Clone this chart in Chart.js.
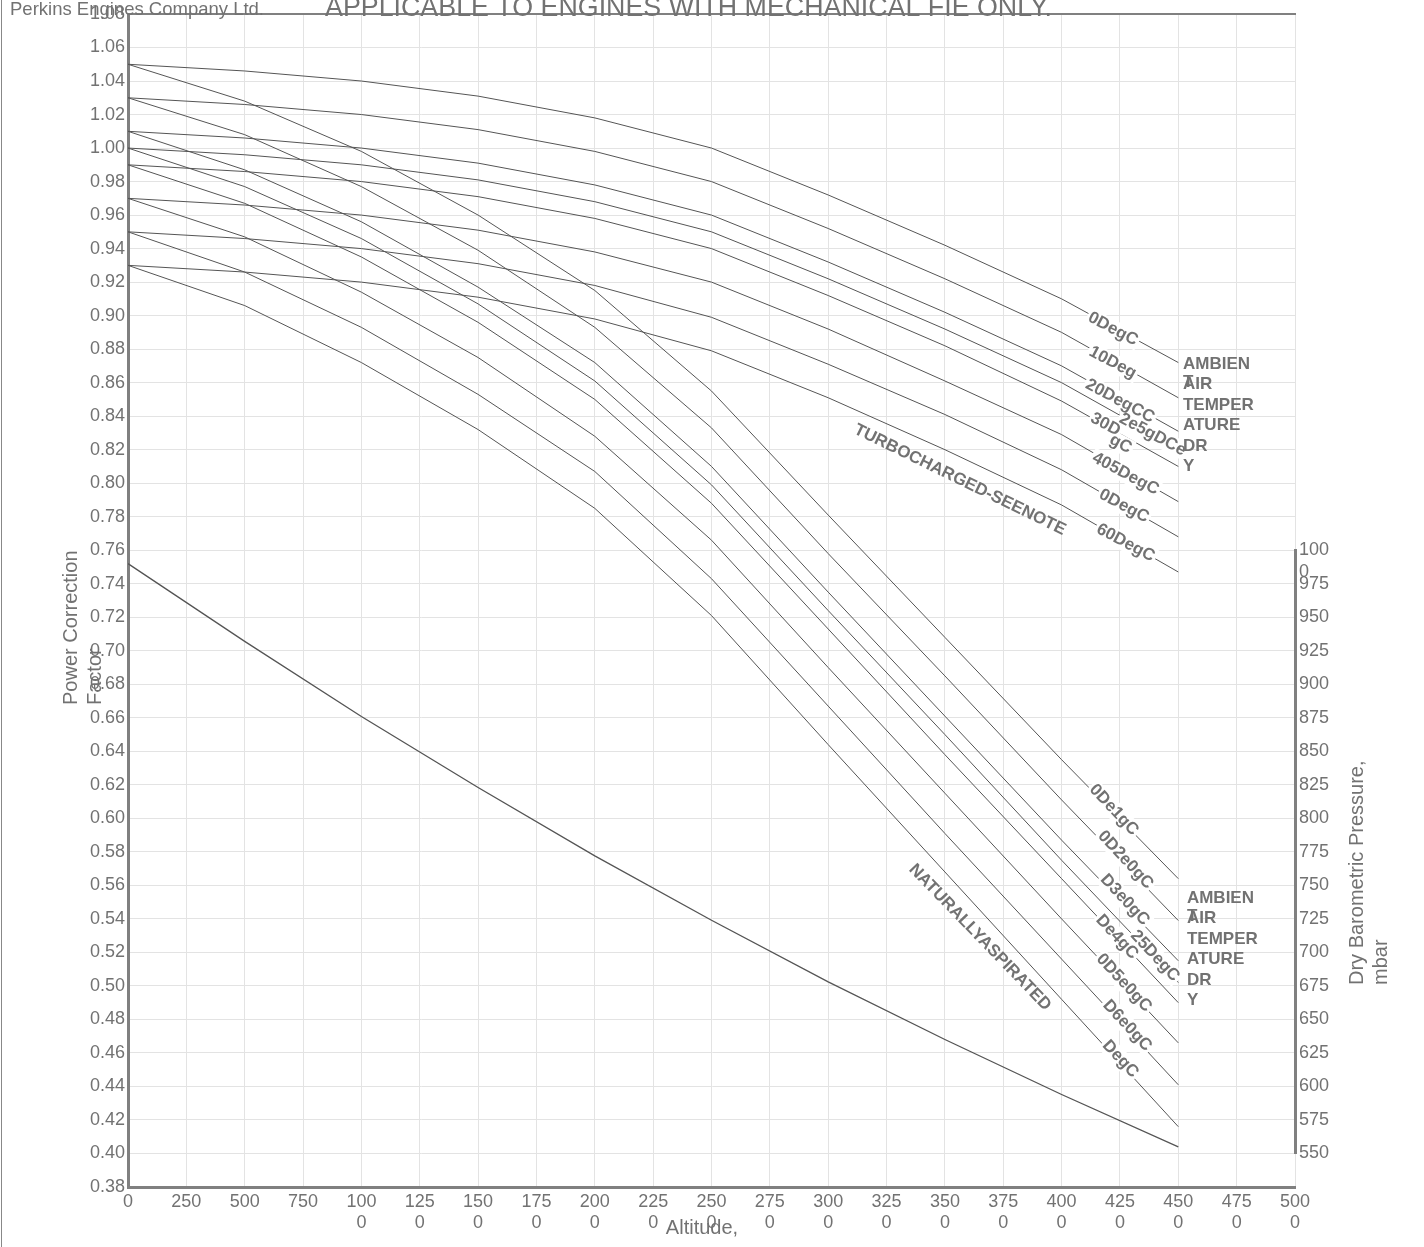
<!DOCTYPE html>
<html>
<head>
<meta charset="utf-8">
<script src="https://cdn.jsdelivr.net/npm/chart.js@4.4.0/dist/chart.umd.min.js"></script>
<style>
  html, body { margin: 0; padding: 0; background: #fff; }
  #wrap { position: relative; width: 1424px; height: 1247px; overflow: hidden; }
  #frame { position: absolute; left: 1px; top: 0; width: 1px; height: 1247px; background: #888; }
  canvas { display: block; }
</style>
</head>
<body>
<div id="wrap">
  <canvas id="grafico" width="1424" height="1247"></canvas>
  <div id="frame"></div>
</div>
<script>
// altitude, m
const altitudes = [0, 500, 1000, 1500, 2000, 2500, 3000, 3500, 4000, 4500];

// turbocharged, power correction factor per ambient temperature
const turbo0  = [1.050, 1.046, 1.040, 1.031, 1.018, 1.000, 0.972, 0.942, 0.910, 0.872];
const turbo10 = [1.030, 1.026, 1.020, 1.011, 0.998, 0.980, 0.952, 0.922, 0.890, 0.851];
const turbo20 = [1.010, 1.006, 1.000, 0.991, 0.978, 0.960, 0.932, 0.902, 0.870, 0.831];
const turbo25 = [1.000, 0.996, 0.990, 0.981, 0.968, 0.950, 0.922, 0.892, 0.860, 0.821];
const turbo30 = [0.990, 0.986, 0.980, 0.971, 0.958, 0.940, 0.912, 0.882, 0.849, 0.810];
const turbo40 = [0.970, 0.966, 0.960, 0.951, 0.938, 0.920, 0.892, 0.861, 0.829, 0.789];
const turbo50 = [0.950, 0.946, 0.940, 0.931, 0.918, 0.899, 0.871, 0.841, 0.808, 0.768];
const turbo60 = [0.930, 0.926, 0.920, 0.911, 0.898, 0.879, 0.851, 0.820, 0.787, 0.747];

// naturally aspirated
const natural0  = [1.050, 1.028, 0.998, 0.960, 0.915, 0.855, 0.781, 0.708, 0.635, 0.564];
const natural10 = [1.030, 1.008, 0.977, 0.939, 0.893, 0.833, 0.758, 0.685, 0.611, 0.539];
const natural20 = [1.010, 0.987, 0.956, 0.917, 0.872, 0.810, 0.735, 0.661, 0.587, 0.515];
const natural25 = [1.000, 0.977, 0.946, 0.907, 0.861, 0.799, 0.724, 0.650, 0.575, 0.502];
const natural30 = [0.990, 0.967, 0.935, 0.896, 0.850, 0.788, 0.713, 0.638, 0.564, 0.490];
const natural40 = [0.970, 0.947, 0.914, 0.875, 0.828, 0.766, 0.690, 0.615, 0.540, 0.466];
const natural50 = [0.950, 0.926, 0.893, 0.853, 0.807, 0.743, 0.667, 0.591, 0.516, 0.441];
const natural60 = [0.930, 0.906, 0.872, 0.832, 0.785, 0.721, 0.644, 0.568, 0.492, 0.416];

// dry barometric pressure, mbar
const pressure = [990, 932, 876, 823, 772, 724, 678, 635, 594, 555];

const xTickLabels = ['0', '250', '500', '750', ['100', '0'], ['125', '0'], ['150', '0'], ['175', '0'],
  ['200', '0'], ['225', '0'], ['250', '0'], ['275', '0'], ['300', '0'], ['325', '0'], ['350', '0'],
  ['375', '0'], ['400', '0'], ['425', '0'], ['450', '0'], ['475', '0'], ['500', '0']];
const pressureTickLabels = ['550', '575', '600', '625', '650', '675', '700', '725', '750', '775',
  '800', '825', '850', '875', '900', '925', '950', '975', ['', '100', '0']];

// text on the curves: [text, altitude, factor, angle]
const curveLabels = [
  ['0DegC', 4220, 0.892, 28], ['10Deg', 4219, 0.872, 28], ['20DegCC', 4250, 0.849, 28],
  ['30D', 4188, 0.835, 28], ['gC', 4253, 0.8234, 28], ['2e5gDCe', 4390, 0.829, 28],
  ['405DegC', 4274, 0.8056, 28], ['0DegC', 4267, 0.7864, 28], ['60DegC', 4274, 0.7644, 28],
  ['0De1gC', 4224, 0.605, 47], ['0D2e0gC', 4274, 0.5752, 47], ['D3e0gC', 4271, 0.5513, 47],
  ['De4gC', 4237, 0.5292, 47], ['25DegC', 4400, 0.5179, 47], ['0D5e0gC', 4267, 0.5018, 47],
  ['D6e0gC', 4281, 0.4763, 47], ['DegC', 4252, 0.4564, 47]
];
const groupLabels = [
  ['TURBOCHARGED-SEENOTE', 3564, 0.802, 26],
  ['NATURALLYASPIRATED', 3650, 0.529, 46]
];
const legendRows = ['AMBIEN', 'AIR', 'TEMPER', 'ATURE', 'DR', 'Y'];
const legendBlocks = [[4520, 0.8712], [4537, 0.5525]];

const textGrey = '#727272';
const axisGrey = '#808080';
const gridGrey = '#e3e3e3';
const lineGrey = '#555555';
const family = '"Liberation Sans", Arial, sans-serif';

function serie(values, axis, width) {
  return {
    data: altitudes.map((a, i) => ({ x: a, y: values[i] })),
    yAxisID: axis,
    borderColor: lineGrey,
    borderWidth: width,
    pointRadius: 0,
    tension: 0,
    fill: false
  };
}

function fixSize(w, h) {
  return s => {
    if (w !== null) s.width = w;
    if (h !== null) s.height = h;
    s.paddingTop = 0;
    s.paddingBottom = 0;
    s.paddingLeft = 0;
    s.paddingRight = 0;
  };
}

// empty stacked axis, only keeps room on the right side
function spacer(weight, min, max) {
  return {
    type: 'linear', position: 'right', stack: 'right', stackWeight: weight, min: min, max: max,
    ticks: { display: false },
    grid: { display: false, drawTicks: false },
    border: { display: false },
    afterFit: fixSize(0, null)
  };
}

const annotate = {
  id: 'annotate',
  afterDatasetsDraw(chart) {
    const { ctx, scales: { x, y } } = chart;
    ctx.save();
    ctx.font = 'bold 17px ' + family;
    ctx.textAlign = 'center';
    ctx.textBaseline = 'middle';
    const placed = curveLabels.map(l => ({
      text: l[0], px: x.getPixelForValue(l[1]), py: y.getPixelForValue(l[2]), a: l[3] * Math.PI / 180
    }));
    ctx.fillStyle = '#fff';
    placed.forEach(p => {
      const w = ctx.measureText(p.text).width;
      ctx.save();
      ctx.translate(p.px, p.py);
      ctx.rotate(p.a);
      ctx.fillRect(-w / 2 - 2, -9, w + 4, 18);
      ctx.restore();
    });
    ctx.fillStyle = textGrey;
    placed.concat(groupLabels.map(l => ({
      text: l[0], px: x.getPixelForValue(l[1]), py: y.getPixelForValue(l[2]), a: l[3] * Math.PI / 180
    }))).forEach(p => {
      ctx.save();
      ctx.translate(p.px, p.py);
      ctx.rotate(p.a);
      ctx.fillText(p.text, 0, 0);
      ctx.restore();
    });
    ctx.textAlign = 'left';
    legendBlocks.forEach(b => {
      const bx = x.getPixelForValue(b[0]);
      const by = y.getPixelForValue(b[1]);
      legendRows.forEach((row, i) => ctx.fillText(row, bx, by + i * 20.5));
      ctx.fillText('T', bx, by + 18.5);
    });
    ctx.restore();
  },
  afterDraw(chart) {
    const { ctx, chartArea } = chart;
    ctx.save();
    ctx.fillStyle = textGrey;
    ctx.textBaseline = 'alphabetic';
    ctx.textAlign = 'left';
    ctx.font = '18.5px ' + family;
    ctx.fillText('Perkins Engines Company Ltd.', 10, 15);
    ctx.font = '28px ' + family;
    ctx.fillText('APPLICABLE TO ENGINES WITH MECHANICAL FIE ONLY.', 325, 16, 727);

    ctx.font = '20px ' + family;
    ctx.textBaseline = 'middle';
    const rotated = (lines, x0, y0) => {
      ctx.save();
      ctx.translate(x0, y0);
      ctx.rotate(-Math.PI / 2);
      lines.forEach((t, i) => ctx.fillText(t, 0, i * 24));
      ctx.restore();
    };
    rotated(['Power Correction', 'Factor'], 71, 705);
    rotated(['Dry Barometric Pressure,', 'mbar'], chartArea.right + 62, 985);
    ctx.textAlign = 'center';
    ctx.fillText('Altitude,', 702, 1228);
    ctx.restore();
  }
};

window.onload = function () {
  const ctx = document.getElementById('grafico').getContext('2d');
  const curves = [turbo0, turbo10, turbo20, turbo25, turbo30, turbo40, turbo50, turbo60,
    natural0, natural10, natural20, natural25, natural30, natural40, natural50, natural60];

  new Chart(ctx, {
    type: 'line',
    data: {
      datasets: curves.map(c => serie(c, 'y', 1)).concat([serie(pressure, 'y2', 1.3)])
    },
    options: {
      responsive: false,
      animation: false,
      layout: { padding: 0 },
      plugins: { legend: { display: false }, tooltip: { enabled: false }, title: { display: false } },
      scales: {
        x: {
          type: 'linear', position: 'bottom', min: 0, max: 5000,
          ticks: {
            stepSize: 250, autoSkip: false, maxRotation: 0, padding: 4,
            color: textGrey, font: { family: family, size: 18 },
            callback: (v, i) => xTickLabels[i]
          },
          grid: { color: gridGrey, drawTicks: false },
          border: { color: axisGrey, width: 3 },
          afterFit: fixSize(null, 60)
        },
        xTop: {
          type: 'linear', position: 'top', min: 0, max: 5000,
          ticks: { display: false },
          grid: { display: false, drawTicks: false },
          border: { color: axisGrey, width: 2 },
          afterFit: fixSize(null, 14)
        },
        y: {
          type: 'linear', position: 'left', min: 0.38, max: 1.08,
          ticks: {
            stepSize: 0.02, autoSkip: false, padding: 3,
            color: textGrey, font: { family: family, size: 18 },
            callback: v => v.toFixed(2)
          },
          grid: { color: gridGrey, drawTicks: false },
          border: { color: axisGrey, width: 3 },
          afterFit: fixSize(128, null)
        },
        yTop: spacer(400, 1000, 1400),
        y2: {
          type: 'linear', position: 'right', stack: 'right', stackWeight: 450, min: 550, max: 1000,
          ticks: {
            stepSize: 25, autoSkip: false, padding: 4,
            color: textGrey, font: { family: family, size: 18 },
            callback: (v, i) => pressureTickLabels[i]
          },
          grid: { display: false, drawTicks: false },
          border: { color: axisGrey, width: 3 },
          afterFit: fixSize(129, null)
        },
        yLow: spacer(25, 525, 550)
      }
    },
    plugins: [annotate]
  });
};
</script>
</body>
</html>
